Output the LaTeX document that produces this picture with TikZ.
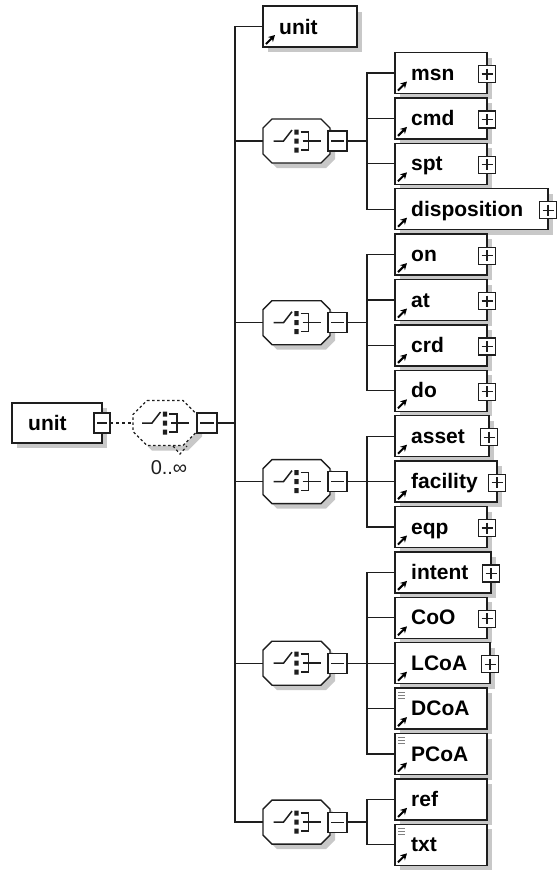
\documentclass[tikz,border=0pt]{standalone}
\usepackage{fontspec}
\setmainfont{Liberation Sans}
\usetikzlibrary{arrows.meta}
\definecolor{shadowc}{RGB}{200,200,200}
\definecolor{linec}{RGB}{30,30,30}
\tikzset{
  conn/.style={draw=linec, line width=1.3pt},
  elem/.style={draw=linec, line width=1.3pt, fill=white, rectangle, inner sep=0pt, outer sep=0pt, minimum height=41pt},
  lbl/.style={anchor=base west, inner sep=0pt, font=\bfseries\fontsize{21}{24}\selectfont},
  refarr/.style={line width=2pt, -{Stealth[length=6.5pt,width=7pt]}},
  pbox/.style={draw=linec, line width=1.2pt, fill=white, rectangle, inner sep=0pt, outer sep=0pt,
    minimum width=17pt, minimum height=17pt,
    path picture={\draw[line width=1.2pt,linec] ([xshift=3pt]path picture bounding box.west) -- ([xshift=-3pt]path picture bounding box.east) ([yshift=-3pt]path picture bounding box.north) -- ([yshift=3pt]path picture bounding box.south);}},
  mbox/.style={draw=linec, line width=1.2pt, fill=white, rectangle, inner sep=0pt, outer sep=0pt,
    minimum width=19pt, minimum height=20pt,
    path picture={\draw[line width=1.2pt,linec] ([xshift=3pt]path picture bounding box.west) -- ([xshift=-3pt]path picture bounding box.east);}},
  anchorbox/.style={rectangle, draw=none, inner sep=0pt, outer sep=0pt},
  octline/.style={draw=linec, line width=1.4pt, fill=white},
  rootline/.style={draw=linec, line width=1.3pt, dash pattern=on 2.5pt off 2.5pt, fill=white},
  docl/.style={draw=gray, line width=1pt},
  occ/.style={font=\fontsize{20}{20}\selectfont, text=linec, inner sep=0pt},
}
% octagon path: centre x, centre y, half width, half height, cut
\newcommand\octpath[5]{({#1-#3+#5},{#2-#4}) -- ({#1+#3-#5},{#2-#4}) -- ({#1+#3},{#2-#4+#5}) -- ({#1+#3},{#2+#4-#5}) -- ({#1+#3-#5},{#2+#4}) -- ({#1-#3+#5},{#2+#4}) -- ({#1-#3},{#2+#4-#5}) -- ({#1-#3},{#2-#4+#5}) -- cycle}
\newcommand\elbox[6]{%
  \pgfmathsetmacro\bw{#4-395}%
  \fill[shadowc] (400,{#3-15.5}) rectangle ({#4+5},{#3+25.5});
  \node[elem, minimum width=\bw pt, anchor=west] (#1) at (395,#3) {};
  \node[lbl] (#1-t) at (411,{#3+7}) {#2};
  \draw[refarr] (398,{#3+17.5}) -- (407,{#3+8.5});
  \ifnum#5=1 \node[pbox] (#1-p) at (#4,{#3+1}) {};\fi
  \ifnum#6=1 \foreach \d in {4,7,10}{\draw[docl] (398,{#3-20.5+\d}) -- (405,{#3-20.5+\d});}\fi
}
\newcommand\chsym[1]{%
  \begin{scope}[shift={(#1.center)}]
    \draw[linec, line width=1.5pt] (-23,0) -- (-13,0) -- (-4.5,-11);
    \fill[linec] (-2.2,-11.5) rectangle (2.2,-6.5) (-2.2,-2.5) rectangle (2.2,2.5) (-2.2,6.5) rectangle (2.2,11.5);
    \draw[linec, line width=1.5pt] (4,-9) -- (12,-9) -- (12,9) -- (4,9) (6,0) -- (24,0);
  \end{scope}}
\newcommand\choice[2]{%
  \fill[shadowc] \octpath{301.5}{#2+5}{33.5}{22}{9};
  \draw[octline] \octpath{296.5}{#2}{33.5}{22}{9};
  \node[anchorbox, minimum width=67pt, minimum height=44pt] (#1) at (296.5,#2) {};
  \chsym{#1}
  \node[mbox] (#1m) at (337.5,#2) {};
  \coordinate (#1b) at (367,#2);
  \draw[conn] (#1m.east) -- (#1b);
}
\begin{document}
\begin{tikzpicture}[x=1pt,y=-1pt]
\fill[white] (0,0) rectangle (557,876);
\useasboundingbox (0,0) rectangle (557,876);

% root element
\fill[shadowc] (17,408) rectangle (107,448);
\node[elem, minimum width=90pt, minimum height=40pt, anchor=west] (root) at (12,423) {};
\node[lbl] (root-t) at (28,430) {unit};
\node[mbox, minimum width=16pt] (rm1) at (102,423) {};
\fill[shadowc] \octpath{170}{428}{32}{22.5}{14};
\draw[rootline] \octpath{165}{423}{32}{22.5}{14};
\node[anchorbox, minimum width=64pt, minimum height=45pt] (roct) at (165,423) {};
\chsym{roct}
\draw[linec, line width=1.2pt, dash pattern=on 2.5pt off 2.5pt] (173,446) -- (180,454) -- (187,446);
\node[mbox, minimum width=20pt] (rm2) at (207,423) {};
\node[occ] (occ) at (169,468) {0..∞};
\draw[conn, dash pattern=on 3pt off 3pt] (rm1.east) -- (roct.west);
\coordinate (tr) at (235,423);
\draw[conn] (rm2.east) -- (tr);

% top unit
\fill[shadowc] (268,11.5) rectangle (362,52);
\node[elem, minimum width=94pt, anchor=west] (etop) at (263,26.5) {};
\node[lbl] (etop-t) at (279,34) {unit};
\draw[refarr] (266,{26.5+17.5}) -- (275,{26.5+8.5});

% choices
\choice{ch1}{141}
\choice{ch2}{322.7}
\choice{ch3}{481.6}
\choice{ch4}{663.2}
\choice{ch5}{822.1}

\draw[conn] (tr) |- (etop.west);
\foreach \c in {ch1,ch2,ch3,ch4,ch5}{\draw[conn] (tr) |- (\c.west);}

% elements
\elbox{emsn}{msn}{73}{487}{1}{0}
\elbox{ecmd}{cmd}{118.4}{487}{1}{0}
\elbox{espt}{spt}{163.8}{487}{1}{0}
\elbox{edisp}{disposition}{209.2}{548}{1}{0}
\elbox{eon}{on}{254.6}{487}{1}{0}
\elbox{eat}{at}{300}{487}{1}{0}
\elbox{ecrd}{crd}{345.4}{487}{1}{0}
\elbox{edo}{do}{390.8}{487}{1}{0}
\elbox{easset}{asset}{436.2}{489}{1}{0}
\elbox{efac}{facility}{481.6}{497}{1}{0}
\elbox{eeqp}{eqp}{527}{487}{1}{0}
\elbox{eint}{intent}{572.4}{491}{1}{0}
\elbox{ecoo}{CoO}{617.8}{487}{1}{0}
\elbox{elcoa}{LCoA}{663.2}{490}{1}{0}
\elbox{edcoa}{DCoA}{708.6}{487}{0}{1}
\elbox{epcoa}{PCoA}{754}{487}{0}{1}
\elbox{eref}{ref}{799.4}{487}{0}{0}
\elbox{etxt}{txt}{844.8}{487}{0}{1}

% bus connectors
\foreach \n in {emsn,ecmd,espt,edisp}{\draw[conn] (ch1b) |- (\n.west);}
\foreach \n in {eon,eat,ecrd,edo}{\draw[conn] (ch2b) |- (\n.west);}
\foreach \n in {easset,efac,eeqp}{\draw[conn] (ch3b) |- (\n.west);}
\foreach \n in {eint,ecoo,elcoa,edcoa,epcoa}{\draw[conn] (ch4b) |- (\n.west);}
\foreach \n in {eref,etxt}{\draw[conn] (ch5b) |- (\n.west);}
\end{tikzpicture}
\end{document}
